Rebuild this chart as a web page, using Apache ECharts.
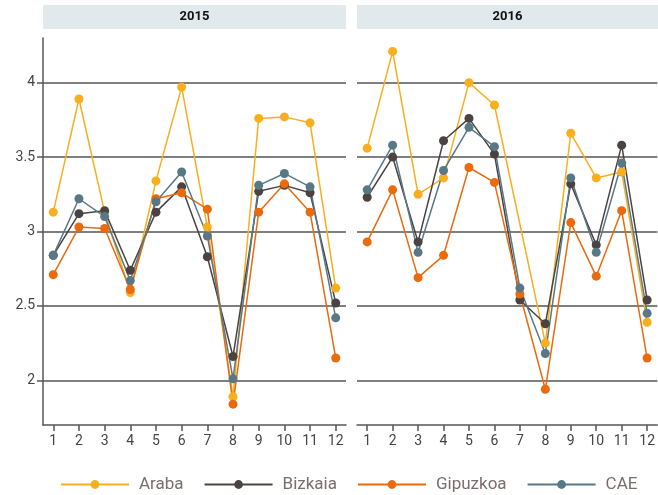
<!DOCTYPE html>
<html>
<head>
<meta charset="utf-8">
<script src="https://cdn.jsdelivr.net/npm/echarts@6/dist/echarts.min.js"></script>
<style>
  html, body { margin: 0; padding: 0; background: #fff; }
  #chart { width: 658px; height: 495px; }
</style>
</head>
<body>
<div id="chart"></div>
<script>
// months on x
var months = [1, 2, 3, 4, 5, 6, 7, 8, 9, 10, 11, 12]
var yTicks = [2, 2.5, 3, 3.5, 4]
var years = ['2015', '2016']
var seriesNames = ['Araba', 'Bizkaia', 'Gipuzkoa', 'CAE']
var colors = ['#f9ae1d', '#4b4242', '#ea6a0c', '#587886']

// 2015
var araba2015 = [3.13, 3.89, 3.13, 2.59, 3.34, 3.97, 3.03, 1.89, 3.76, 3.77, 3.73, 2.62]
var bizkaia2015 = [2.84, 3.12, 3.14, 2.74, 3.13, 3.30, 2.83, 2.16, 3.27, 3.31, 3.26, 2.52]
var gipuzkoa2015 = [2.71, 3.03, 3.02, 2.61, 3.22, 3.26, 3.15, 1.84, 3.13, 3.32, 3.13, 2.15]
var cae2015 = [2.84, 3.22, 3.10, 2.67, 3.20, 3.40, 2.97, 2.01, 3.31, 3.39, 3.30, 2.42]

// 2016 (Araba sin dato en julio)
var araba2016 = [3.56, 4.21, 3.25, 3.36, 4.00, 3.85, null, 2.25, 3.66, 3.36, 3.40, 2.39]
var bizkaia2016 = [3.23, 3.50, 2.93, 3.61, 3.76, 3.52, 2.54, 2.38, 3.32, 2.91, 3.58, 2.54]
var gipuzkoa2016 = [2.93, 3.28, 2.69, 2.84, 3.43, 3.33, 2.58, 1.94, 3.06, 2.70, 3.14, 2.15]
var cae2016 = [3.28, 3.58, 2.86, 3.41, 3.70, 3.57, 2.62, 2.18, 3.36, 2.86, 3.46, 2.45]

var panelData = [
  [araba2015, bizkaia2015, gipuzkoa2015, cae2015],
  [araba2016, bizkaia2016, gipuzkoa2016, cae2016]
]

var fontFamily = 'Roboto, "Noto Sans", sans-serif'
var chart = echarts.init(document.getElementById('chart'))

var grids = [
  { left: 43, top: 38, width: 303, height: 387 },
  { left: 357, top: 38, width: 301, height: 387 }
]

var xAxes = grids.map(function (g, i) {
  return {
    type: 'value',
    gridIndex: i,
    min: 0.6,
    max: 12.4,
    axisLine: { show: true, lineStyle: { color: '#555', width: 1.5 } },
    axisTick: { show: true, length: 6, customValues: months, lineStyle: { color: '#555', width: 1.5 } },
    axisLabel: { customValues: months, color: '#444', fontSize: 14, fontFamily: fontFamily, margin: 9 },
    splitLine: { show: false }
  }
})

var yAxes = grids.map(function (g, i) {
  return {
    type: 'value',
    gridIndex: i,
    min: 1.7,
    max: 4.3,
    axisLine: { show: i === 0, lineStyle: { color: '#555', width: 1.5 } },
    axisTick: { show: i === 0, length: 6, customValues: yTicks, lineStyle: { color: '#555', width: 1.5 } },
    axisLabel: {
      show: i === 0,
      customValues: yTicks,
      color: '#444',
      fontSize: 14,
      fontFamily: fontFamily,
      margin: 8
    },
    splitLine: { show: true, lineStyle: { color: '#555', width: 1.5 } }
  }
})

var series = []
panelData.forEach(function (panel, p) {
  panel.forEach(function (vals, k) {
    series.push({
      name: seriesNames[k],
      type: 'line',
      xAxisIndex: p,
      yAxisIndex: p,
      data: vals.map(function (v, j) { return [months[j], v] }),
      connectNulls: true,
      symbol: 'circle',
      symbolSize: 9,
      color: colors[k],
      lineStyle: { width: 1.5, color: colors[k] },
      itemStyle: { color: colors[k] },
      animation: false
    })
  })
})

var option = {
  backgroundColor: '#fff',
  animation: false,
  grid: grids,
  xAxis: xAxes,
  yAxis: yAxes,
  legend: {
    data: seriesNames,
    top: 471,
    left: 55,
    itemWidth: 68,
    itemHeight: 11,
    itemGap: 20,
    textStyle: { color: '#7a6e6c', fontSize: 17, fontFamily: fontFamily, padding: [0, 0, 0, 5] }
  },
  graphic: [
    { type: 'rect', shape: { x: 43, y: 5, width: 303, height: 24 }, style: { fill: '#e1e9ec' } },
    { type: 'rect', shape: { x: 357, y: 5, width: 301, height: 24 }, style: { fill: '#e1e9ec' } },
    { type: 'text', x: 194.5, y: 17, style: { text: years[0], fill: '#111', font: 'bold 13px ' + fontFamily, textAlign: 'center', textVerticalAlign: 'middle' } },
    { type: 'text', x: 507.5, y: 17, style: { text: years[1], fill: '#111', font: 'bold 13px ' + fontFamily, textAlign: 'center', textVerticalAlign: 'middle' } }
  ],
  series: series
}

chart.setOption(option)
</script>
</body>
</html>
